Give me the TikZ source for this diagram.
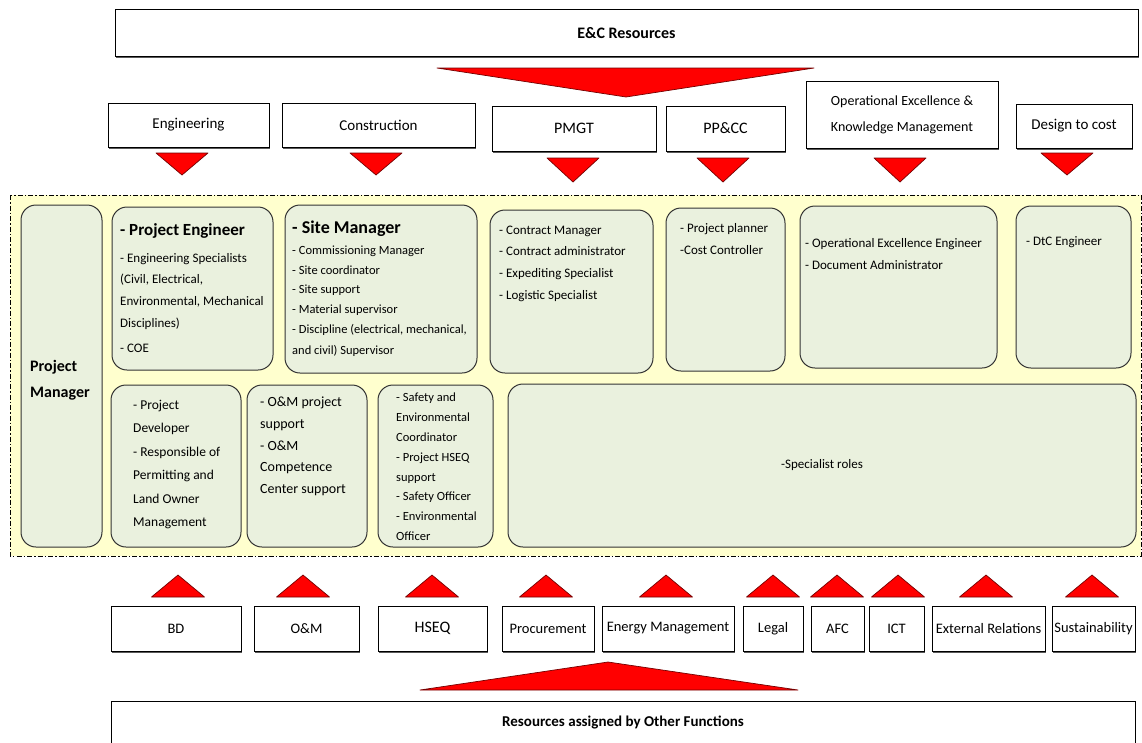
\documentclass[tikz,border=0pt]{standalone}
\usepackage{fontspec}
\setmainfont{Carlito}
\usetikzlibrary{shadows}
\definecolor{paleyellow}{RGB}{255,255,206}
\definecolor{rolegreen}{RGB}{234,241,222}
\definecolor{trired}{RGB}{255,0,0}
\tikzset{
	funcbox/.style={draw, line width=1pt, fill=white, align=center, inner sep=0pt,
		font=\fontsize{15}{18}\selectfont,
		drop shadow={shadow xshift=1.3pt, shadow yshift=-1.5pt, fill=black!65, opacity=1}},
	rolebox/.style={draw=black!80, line width=1pt, fill=rolegreen, rounded corners=15pt, inner sep=0pt},
	roletext/.style={anchor=north west, align=left, inner sep=0pt, font=\fontsize{13}{21.7}\selectfont},
	tri/.style={fill=trired, draw=black!55!red, line width=0.7pt, line join=round}
}
\begin{document}
\begin{tikzpicture}[x=1pt,y=-1pt]
	\clip (0,0) rectangle (1142,742);
	% E&C resources and its functions
	\node[funcbox, minimum width=1023, minimum height=47, font=\fontsize{16}{19}\selectfont\bfseries] (ec) at (626.5,33) {E\&C Resources};
	\filldraw[tri] (437,68) -- (814,68) -- (626,97) -- cycle;
	\node[funcbox, minimum width=161, minimum height=44] (eng) at (188.5,125) {Engineering};
	\node[funcbox, minimum width=193, minimum height=44] (con) at (378.5,125) {Construction};
	\node[funcbox, minimum width=164, minimum height=45, font=\fontsize{16}{18}\selectfont] (pmgt) at (574,128.5) {PMGT};
	\node[funcbox, minimum width=119, minimum height=45, font=\fontsize{16}{18}\selectfont] (ppcc) at (725.5,128.5) {PP\&CC};
	\node[funcbox, minimum width=192, minimum height=67, font=\fontsize{14}{26}\selectfont] (opex) at (902,114.5) {Operational Excellence \&\\Knowledge Management};
	\node[funcbox, minimum width=116, minimum height=44] (dtc) at (1074,126) {Design to cost};
	\foreach \cx/\ty/\h in {182/153/22, 376/153/22, 573/158/24, 723/158/24, 900/158/24, 1067/153/22}{
		\filldraw[tri] (\cx-26,\ty) -- (\cx+26,\ty) -- (\cx,\ty+\h) -- cycle;
	}
	% project team
	\draw[fill=paleyellow, line width=1pt, dash pattern=on 5pt off 2pt on 1.5pt off 2pt] (10,195) rectangle (1141,556);
	\node[rolebox, minimum width=81, minimum height=342] (pm) at (61.5,376) {};
	\node[roletext, font=\fontsize{16}{26}\selectfont\bfseries] (pmtext) at (30,360) {Project\\Manager};
	\node[rolebox, minimum width=161, minimum height=163] (pe) at (192.5,288.5) {};
	\node[roletext, font=\fontsize{17}{20}\selectfont\bfseries] (petitle) at (120,223) {- Project Engineer};
	\node[roletext] (peitems) at (120,253) {- Engineering Specialists\\(Civil, Electrical,\\Environmental, Mechanical\\Disciplines)\\[3pt]- COE};
	\node[rolebox, minimum width=192, minimum height=168] (sm) at (381,289) {};
	\node[roletext, font=\fontsize{18}{20}\selectfont\bfseries] (smtitle) at (292,221) {- Site Manager};
	\node[roletext, font=\fontsize{12.5}{19.7}\selectfont] (smitems) at (292,245.5) {- Commissioning Manager\\- Site coordinator\\- Site support\\- Material supervisor\\- Discipline (electrical, mechanical,\\[2pt]and civil) Supervisor};
	\node[rolebox, minimum width=163, minimum height=163] (pmgtroles) at (571.5,291.5) {};
	\node[roletext] (pmgtitems) at (499,225.5) {- Contract Manager\\- Contract administrator\\- Expediting Specialist\\- Logistic Specialist};
	\node[rolebox, minimum width=119, minimum height=163] (ppccroles) at (725.5,289.5) {};
	\node[roletext] (ppccitems) at (680,223.5) {- Project planner\\-Cost Controller};
	\node[rolebox, minimum width=197, minimum height=162] (opexroles) at (898.5,287) {};
	\node[roletext] (opexitems) at (805,238.5) {- Operational Excellence Engineer\\- Document Administrator};
	\node[rolebox, minimum width=115, minimum height=162] (dtcroles) at (1073.5,287) {};
	\node[roletext] (dtcitems) at (1026,236.5) {- DtC Engineer};
	\node[rolebox, minimum width=130, minimum height=162] (bdroles) at (176,466) {};
	\node[roletext, font=\fontsize{13.5}{23.4}\selectfont] (bditems) at (133,400) {- Project\\Developer\\- Responsible of\\Permitting and\\Land Owner\\Management};
	\node[rolebox, minimum width=120, minimum height=162] (omroles) at (307,466) {};
	\node[roletext, font=\fontsize{14}{21.6}\selectfont] (omitems) at (260,397) {- O\&M project\\support\\- O\&M\\Competence\\Center support};
	\node[rolebox, minimum width=115, minimum height=162] (hseqroles) at (435.5,466) {};
	\node[roletext, font=\fontsize{12.5}{19.8}\selectfont] (hseqitems) at (396,393) {- Safety and\\Environmental\\Coordinator\\- Project HSEQ\\support\\- Safety Officer\\- Environmental\\Officer};
	\node[rolebox, minimum width=628, minimum height=163, font=\fontsize{13}{16}\selectfont] (spec) at (822,465.5) {-Specialist roles};
	% other functions
	\foreach \cx in {178,303,432,546,666,773,837,898,986,1092}{
		\filldraw[tri] (\cx-26.5,597) -- (\cx+26.5,597) -- (\cx,575) -- cycle;
	}
	\node[funcbox, minimum width=130, minimum height=45, font=\fontsize{14.5}{18}\selectfont] (bd) at (176,628.5) {BD};
	\node[funcbox, minimum width=105, minimum height=45, font=\fontsize{14.5}{18}\selectfont] (om) at (306.5,628.5) {O\&M};
	\node[funcbox, minimum width=109, minimum height=45, font=\fontsize{16}{18}\selectfont] (hseq) at (432.5,628.5) {HSEQ};
	\node[funcbox, minimum width=92, minimum height=45, font=\fontsize{14.5}{18}\selectfont] (proc) at (548,628.5) {Procurement};
	\node[funcbox, minimum width=132, minimum height=45, font=\fontsize{14.5}{18}\selectfont] (energy) at (668,628.5) {Energy Management};
	\node[funcbox, minimum width=60, minimum height=45, font=\fontsize{14.5}{18}\selectfont] (legal) at (773,628.5) {Legal};
	\node[funcbox, minimum width=53, minimum height=45, font=\fontsize{14.5}{18}\selectfont] (afc) at (837.5,628.5) {AFC};
	\node[funcbox, minimum width=55, minimum height=45, font=\fontsize{14.5}{18}\selectfont] (ict) at (896.5,628.5) {ICT};
	\node[funcbox, minimum width=113, minimum height=45, font=\fontsize{14.5}{18}\selectfont] (extrel) at (988.5,628.5) {External Relations};
	\node[funcbox, minimum width=83, minimum height=45, font=\fontsize{14.5}{18}\selectfont] (sust) at (1093.5,628.5) {Sustainability};
	\filldraw[tri] (420,690) -- (798,690) -- (608,662) -- cycle;
	\node[funcbox, minimum width=1024, minimum height=42, font=\fontsize{15}{18}\selectfont\bfseries] (other) at (623,722) {Resources assigned by Other Functions};
\end{tikzpicture}
\end{document}
